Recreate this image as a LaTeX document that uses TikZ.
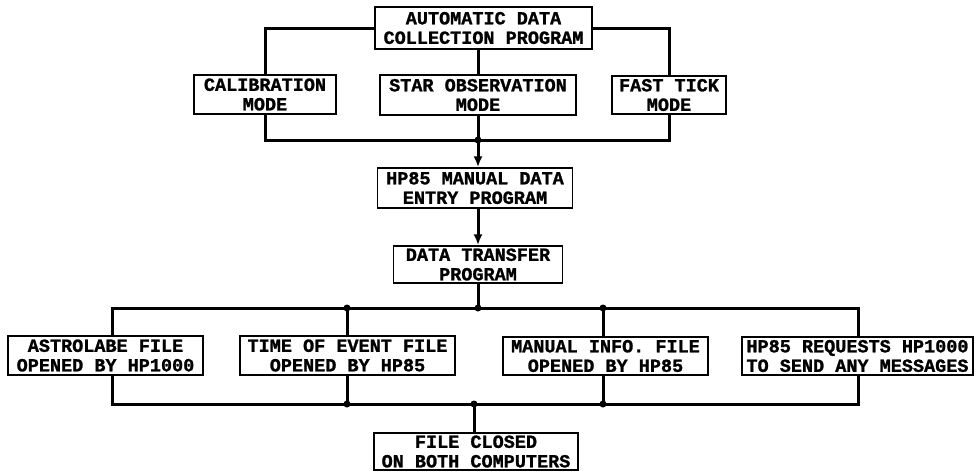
\documentclass[tikz,border=0pt]{standalone}
\usepackage{fontspec}
\setmonofont{Liberation Mono}[BoldFeatures={FakeBold=1.2}]
\usetikzlibrary{arrows.meta}
\begin{document}
\begin{tikzpicture}[x=1pt,y=-1pt,
  box/.style={draw,line width=1.5pt,inner sep=0pt,align=center,
    font=\ttfamily\bfseries\fontsize{18.5}{19.5}\selectfont},
  wire/.style={line width=3pt},
  jdot/.style={circle,fill,inner sep=0pt,minimum size=7pt}]
\useasboundingbox (0,0) rectangle (980,472);

% boxes
\node[box,minimum width=217pt,minimum height=42pt] (acp) at (483.5,28) {AUTOMATIC DATA\\COLLECTION PROGRAM};
\node[box,minimum width=142pt,minimum height=39pt] (cal) at (265,94.5) {CALIBRATION\\MODE};
\node[box,minimum width=196pt,minimum height=40pt] (star) at (478,95) {STAR OBSERVATION\\MODE};
\node[box,minimum width=114pt,minimum height=38pt] (fast) at (669,95) {FAST TICK\\MODE};
\node[box,minimum width=195pt,minimum height=40pt] (hp85) at (475,188) {HP85 MANUAL DATA\\ENTRY PROGRAM};
\node[box,minimum width=169pt,minimum height=37pt] (dtp) at (478,264.5) {DATA TRANSFER\\PROGRAM};
\node[box,minimum width=195pt,minimum height=39pt] (astro) at (105.5,355.5) {ASTROLABE FILE\\OPENED BY HP1000};
\node[box,minimum width=215pt,minimum height=39pt] (toe) at (347.5,355.5) {TIME OF EVENT FILE\\OPENED BY HP85};
\node[box,minimum width=205pt,minimum height=38pt] (man) at (605.5,356) {MANUAL INFO. FILE\\OPENED BY HP85};
\node[box,minimum width=231pt,minimum height=38pt] (req) at (857.5,356) {HP85 REQUESTS HP1000\\TO SEND ANY MESSAGES};
\node[box,minimum width=204pt,minimum height=37pt] (fin) at (476,451.5) {FILE CLOSED\\ON BOTH COMPUTERS};

% top fan-out
\draw[wire] (acp.west) -| (cal.north);
\draw[wire] (acp.east) -| (fast.north);
\draw[wire] (acp.south -| star.north) -- (star.north);

% bus 1
\coordinate (b1) at (478,140);
\draw[wire] (cal.south) |- (b1) -| (fast.south);
\draw[wire] (star.south) -- (b1);
\draw[wire,-{Latex[length=11pt,width=9pt]}] (b1) -- (b1 |- hp85.north);
\node[jdot] (d1) at (b1) {};
\draw[wire,-{Latex[length=11pt,width=9pt]}] (hp85.south -| dtp.north) -- (dtp.north);

% bus 2
\coordinate (b2) at (478,308);
\coordinate (la) at (112,308);
\coordinate (lt) at (347,308);
\coordinate (lm) at (603,308);
\coordinate (lr) at (858,308);
\draw[wire] (dtp.south) -- (b2);
\draw[wire] (la |- astro.north) -- (la) -- (lr) -- (lr |- req.north);
\draw[wire] (lt) -- (lt |- toe.north);
\draw[wire] (lm) -- (lm |- man.north);
\node[jdot] (d2) at (lt) {};
\node[jdot] (d3) at (b2) {};
\node[jdot] (d4) at (lm) {};

% bus 3
\coordinate (ma) at (112,404);
\coordinate (mt) at (347,404);
\coordinate (mc) at (474,404);
\coordinate (mm) at (603,404);
\coordinate (mr) at (858,404);
\draw[wire] (ma |- astro.south) -- (ma) -- (mr) -- (mr |- req.south);
\draw[wire] (mt |- toe.south) -- (mt);
\draw[wire] (mm |- man.south) -- (mm);
\draw[wire] (mc) -- (mc |- fin.north);
\node[jdot] (d5) at (mt) {};
\node[jdot] (d6) at (mc) {};
\node[jdot] (d7) at (mm) {};
\end{tikzpicture}
\end{document}
